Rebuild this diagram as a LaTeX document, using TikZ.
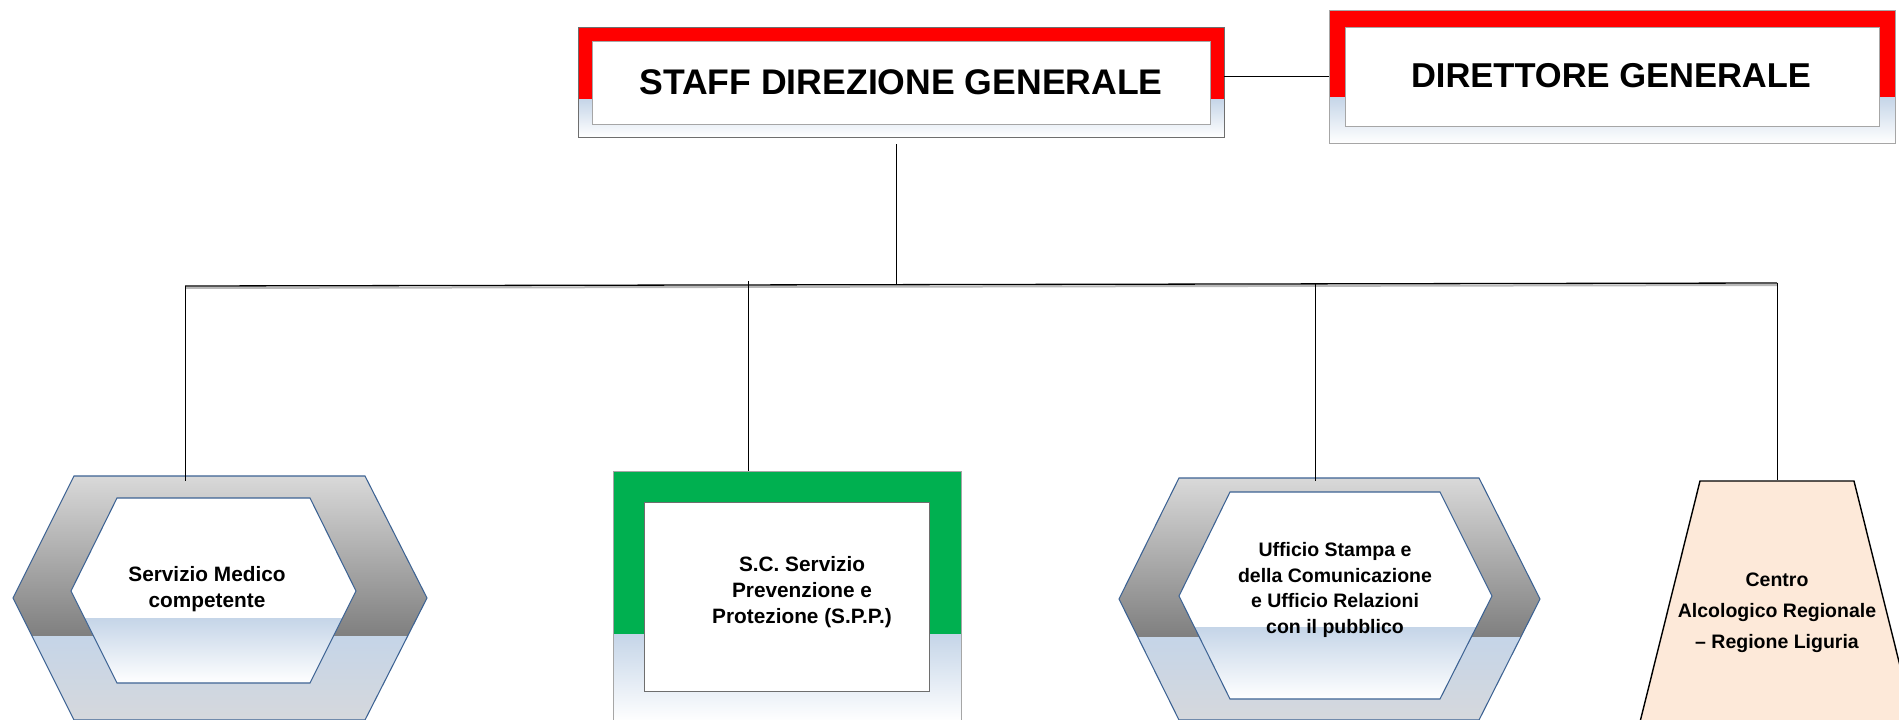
\documentclass[tikz,border=0pt]{standalone}
\usepackage{fontspec}
\setmainfont{Liberation Sans}
\definecolor{redA}{HTML}{FF0000}
\definecolor{greenA}{HTML}{00B050}
\definecolor{lblue}{HTML}{C5D5E8}
\definecolor{grayT}{HTML}{D9D9D9}
\definecolor{grayD}{HTML}{7F7F7F}
\definecolor{grayB}{HTML}{D6D8DC}
\definecolor{hexblue}{HTML}{3C6293}
\definecolor{peach}{HTML}{FDE9D9}
\definecolor{boxgray}{HTML}{6E6E6E}
\definecolor{inngray}{HTML}{A6A6A6}
\tikzset{
  conn/.style={black, line width=1pt},
  hexline/.style={draw=hexblue, line width=1.05pt},
  big/.style={font=\bfseries\fontsize{34.5}{40}\selectfont, align=center, inner sep=0pt},
  lbl/.style={font=\bfseries\fontsize{19.5}{25.5}\selectfont, align=center, inner sep=0pt},
  lblb/.style={font=\bfseries\fontsize{20.8}{26}\selectfont, align=center, inner sep=0pt},
  lblwide/.style={font=\bfseries\fontsize{19.5}{31}\selectfont, align=center, inner sep=0pt}
}
\begin{document}
\begin{tikzpicture}[x=1pt,y=-1pt]
\useasboundingbox (0,0) rectangle (1899,720);
\fill[white] (0,0) rectangle (1899,720);

% ---------- STAFF DIREZIONE GENERALE ----------
\fill[redA] (578,27) rectangle (1224,99);
\shade[top color=lblue, bottom color=white] (578,99) rectangle (1224,137);
\draw[boxgray, line width=1pt] (578,27) rectangle (1224,137);
\filldraw[fill=white, draw=inngray, line width=1pt] (592,41) rectangle (1210,124);
\node[big, font=\bfseries\fontsize{35.6}{40}\selectfont] (staff) at (901,82) {STAFF DIREZIONE GENERALE};

% ---------- DIRETTORE GENERALE ----------
\fill[redA] (1329,10) rectangle (1895,97);
\shade[top color=lblue, bottom color=white] (1329,97) rectangle (1895,143);
\draw[inngray, line width=1pt] (1329,10) rectangle (1895,143);
\filldraw[fill=white, draw=inngray, line width=1pt] (1345,27) rectangle (1879,126);
\node[big] (dir) at (1611,76) {DIRETTORE GENERALE};

% ---------- Hexagon 1 ----------
\begin{scope}
\clip (74,476) -- (365,476) -- (427,598) -- (365,720) -- (74,720) -- (13,598) -- cycle;
\shade[top color=grayT, bottom color=grayD] (0,476) rectangle (440,636);
\shade[top color=lblue, bottom color=grayB] (0,636) rectangle (440,722);
\end{scope}
\draw[hexline] (74,476) -- (365,476) -- (427,598) -- (365,720) -- (74,720) -- (13,598) -- cycle;
\begin{scope}
\clip (117,498) -- (310,498) -- (356,591) -- (310,683) -- (117,683) -- (71,591) -- cycle;
\fill[white] (60,490) rectangle (370,690);
\shade[top color=lblue, bottom color=white] (60,618) rectangle (370,683);
\end{scope}
\draw[hexline] (117,498) -- (310,498) -- (356,591) -- (310,683) -- (117,683) -- (71,591) -- cycle;
\node[lblb] (med) at (207,589) {Servizio Medico\\competente};

% ---------- Green box ----------
\fill[greenA] (613,471) rectangle (961,634);
\shade[top color=lblue, bottom color=white] (613,634) rectangle (961,722);
\draw[inngray, line width=1pt] (613,722) -- (613,471) -- (961,471) -- (961,722);
\filldraw[fill=white, draw=boxgray, line width=1pt] (644,502) rectangle (929,691);
\node[lblb] (spp) at (802,592) {S.C. Servizio\\Prevenzione e\\Protezione (S.P.P.)};

% ---------- Hexagon 2 ----------
\begin{scope}
\clip (1179,478) -- (1479,478) -- (1540,599) -- (1479,720) -- (1179,720) -- (1119,599) -- cycle;
\shade[top color=grayT, bottom color=grayD] (1100,478) rectangle (1560,637);
\shade[top color=lblue, bottom color=grayB] (1100,637) rectangle (1560,722);
\end{scope}
\draw[hexline] (1179,478) -- (1479,478) -- (1540,599) -- (1479,720) -- (1179,720) -- (1119,599) -- cycle;
\begin{scope}
\clip (1230,492) -- (1440,492) -- (1492,596) -- (1440,699) -- (1230,699) -- (1179,596) -- cycle;
\fill[white] (1170,485) rectangle (1500,705);
\shade[top color=lblue, bottom color=white] (1170,627) rectangle (1500,699);
\end{scope}
\draw[hexline] (1230,492) -- (1440,492) -- (1492,596) -- (1440,699) -- (1230,699) -- (1179,596) -- cycle;
\node[lbl] (uff) at (1335,590) {Ufficio Stampa e\\della Comunicazione\\e Ufficio Relazioni\\con il pubblico};

% ---------- Trapezoid ----------
\filldraw[fill=peach, draw=black, line width=1.4pt] (1700,481) -- (1854,481) -- (1914,722) -- (1640,722) -- cycle;
\node[lblwide] (car) at (1777,613) {Centro\\Alcologico Regionale\\– Regione Liguria};

% ---------- Connectors ----------
\coordinate (staffR) at (1224,76);
\coordinate (dirL) at (1329,76);
\coordinate (staffB) at (896,144);
\coordinate (busM) at (896,285);
\coordinate (busL) at (185,286);
\coordinate (busR) at (1777,283);
\coordinate (t1) at (185,481);
\coordinate (b2) at (748,281);
\coordinate (t2) at (748,471);
\coordinate (b3) at (1315,283);
\coordinate (t3) at (1315,481);
\coordinate (t4) at (1777,480);

\draw[conn] (staffR) -- (dirL);
\draw[conn] (staffB) -- (busM);
\draw[gray!55, line width=2pt] ([yshift=-2pt]busL) -- ([yshift=-2pt]busR);
\draw[black, line width=1.3pt] (busL) -- (busR);
\draw[conn] (busL) -- (t1);
\draw[conn] (b2) -- (t2);
\draw[conn] (b3) -- (t3);
\draw[conn] (busR) -- (t4);
\end{tikzpicture}
\end{document}
